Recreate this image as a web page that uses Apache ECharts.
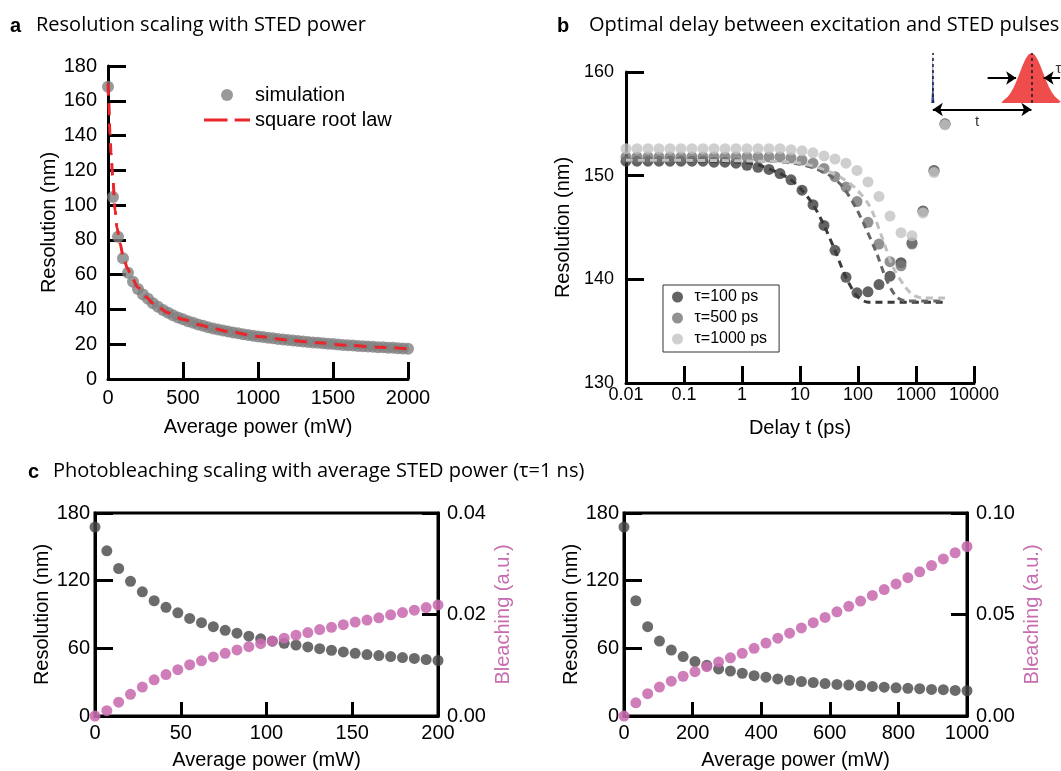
<!DOCTYPE html>
<html><head><meta charset="utf-8">
<script src="https://cdn.jsdelivr.net/npm/echarts/dist/echarts.min.js"></script>
<style>html,body{margin:0;padding:0;background:#fff}#wrap{position:relative;width:1061px;height:771px}#c{width:1061px;height:771px}#ov{position:absolute;left:0;top:0;pointer-events:none}</style>
</head><body><div id="wrap"><div id="c"></div></div>
<script>
// ---------- Panel a ----------
const simPower = [0,33.3,66.7,100,133.3,166.7,200,233.3,266.7,300,333.3,366.7,400,433.3,466.7,500,533.3,566.7,600,633.3,666.7,700,733.3,766.7,800,833.3,866.7,900,933.3,966.7,1000,1033.3,1066.7,1100,1133.3,1166.7,1200,1233.3,1266.7,1300,1333.3,1366.7,1400,1433.3,1466.7,1500,1533.3,1566.7,1600,1633.3,1666.7,1700,1733.3,1766.7,1800,1833.3,1866.7,1900,1933.3,1966.7,2000];
const simRes = [168,104.6,81.8,69.4,61.1,55.9,51.8,48.6,46.1,43.6,41.5,39.7,38.1,36.7,35.4,34.3,33.2,32.3,31.4,30.6,29.8,29.1,28.5,27.9,27.3,26.8,26.3,25.8,25.3,24.9,24.5,24.1,23.7,23.4,23.0,22.7,22.4,22.1,21.8,21.5,21.3,21.0,20.8,20.5,20.3,20.1,19.8,19.6,19.4,19.2,19.0,18.9,18.7,18.5,18.3,18.2,18.0,17.9,17.7,17.6,17.4];
const fitPower = [0,5,13,20,31,47,60,80,100,130,160,200,250,300,400,500,600,700,800,1000,1200,1400,1600,1800,2000];
const fitRes = [170,160,141,130,117,97,87,78,71,63.5,58.1,52.6,47.5,43.6,38.1,34.3,31.4,29.1,27.3,24.5,22.4,20.8,19.4,18.3,17.4];
const aXTicks = [500,1000,1500,2000];
const aYTicks = [20,40,60,80,100,120,140,160,180];

// ---------- Panel b ----------
const delayT = [0.01,0.01548,0.02395,0.03707,0.05736,0.08877,0.1374,0.2126,0.329,0.5092,0.788,1.219,1.887,2.921,4.52,6.996,10.83,16.75,25.93,40.12,62.1,96.11,148.7,230.2,356.2,551.3,853.2,1320,2044,3162];
const res100 = [151.4,151.4,151.4,151.4,151.4,151.4,151.4,151.4,151.3,151.3,151.2,151.0,150.8,150.6,150.2,149.6,148.6,147.2,145.2,142.8,140.2,138.7,138.8,139.5,140.3,141.6,143.5,146.6,150.5,155.0];
const res500 = [151.8,151.8,151.8,151.8,151.8,151.8,151.8,151.8,151.8,151.8,151.8,151.8,151.8,151.8,151.8,151.7,151.5,151.2,150.7,149.9,148.9,147.5,145.5,143.4,141.7,141.3,143.4,146.55,150.45,154.95];
const res1000 = [152.6,152.6,152.6,152.6,152.6,152.6,152.6,152.6,152.6,152.6,152.6,152.6,152.6,152.6,152.6,152.5,152.4,152.2,151.9,151.6,151.2,150.5,149.4,148.0,146.1,144.5,144.2,146.4,150.3,154.9];
const fit100T = [0.01,1,2,4.5,7,10.8,16.8,26,40,62,96,150,3162];
const fit100R = [151.5,151.3,151.0,150.2,149.6,148.6,147.2,145.2,142.8,140.2,138.4,137.8,137.8];
const fit500T = [0.01,3,10,20,35,55,90,132,210,313,464,700,3162];
const fit500R = [151.5,151.4,151.1,150.6,149.9,148.9,147.0,145.1,142.5,139.9,138.3,137.9,137.9];
const fit1000T = [0.01,3,10,20,35,55,90,161,270,400,646,887,1300,3162];
const fit1000R = [151.5,151.4,151.2,150.8,150.3,149.7,148.8,147.0,143.8,141.2,139.3,138.5,138.2,138.2];
const bTickLabels = ['0.01','0.1','1','10','100','1000','10000'];
const bXTicks = [0.1,1,10,100,1000,10000];
const bYTicks = [140,150,160];
const bNames = ['τ=100 ps','τ=500 ps','τ=1000 ps'];

// inset schematic (pulses)
const spikeX = [-0.016,-0.008,0,0.008,0.016];
const spikeY = [0,0.25,1,0.25,0];
const gaussX = [0.70,0.73,0.76,0.79,0.82,0.85,0.88,0.91,0.94,0.97,1.00,1.03,1.06,1.09,1.12,1.15,1.18,1.21,1.24,1.27,1.30];
const gaussY = [0.02,0.073,0.126,0.205,0.312,0.446,0.596,0.748,0.879,0.968,1,0.968,0.879,0.748,0.596,0.446,0.312,0.205,0.126,0.073,0.02];
const insetLabelPos = [[0.45,-0.38],[1.275,0.68]];
const insetLabelText = ['t','τ'];

// ---------- Panel c ----------
const cLeftPower = [0,6.9,13.8,20.7,27.6,34.5,41.4,48.3,55.2,62.1,69.0,75.9,82.8,89.7,96.6,103.4,110.3,117.2,124.1,131.0,137.9,144.8,151.7,158.6,165.5,172.4,179.3,186.2,193.1,200];
const cLeftRes = [167.5,146.5,130.8,119.4,110.1,102.2,96.4,91.5,86.5,82.7,79.2,76.0,73.4,70.8,68.4,66.3,64.4,62.9,61.2,59.7,58.3,56.8,55.6,54.5,53.6,52.7,51.8,51.0,50.1,49.2];
const cLeftBleach = [0,0.00104,0.00272,0.00427,0.0057,0.00712,0.00816,0.00913,0.0101,0.01087,0.01165,0.01236,0.01301,0.01366,0.01424,0.01476,0.01534,0.01592,0.01644,0.01702,0.01748,0.01799,0.01851,0.0189,0.01935,0.01994,0.02039,0.02085,0.02136,0.02188];
const cRightPower = [0,34.5,69.0,103.4,137.9,172.4,206.9,241.4,275.9,310.3,344.8,379.3,413.8,448.3,482.8,517.2,551.7,586.2,620.7,655.2,689.7,724.1,758.6,793.1,827.6,862.1,896.6,931.0,965.5,1000];
const cRightRes = [167.5,102.2,79.2,66.4,58.5,52.7,48.3,44.9,41.7,39.9,37.9,35.8,34.4,32.9,31.7,30.6,29.7,28.8,28.0,27.4,26.8,26.2,25.6,25.0,24.5,24.2,23.6,23.3,22.7,22.4];
const cRightBleach = [0,0.00647,0.011,0.01424,0.01715,0.01958,0.02184,0.02427,0.02654,0.02864,0.0309,0.03333,0.03592,0.03835,0.04078,0.04337,0.04595,0.04854,0.0513,0.05405,0.05663,0.05939,0.0623,0.06505,0.06812,0.07104,0.07411,0.07735,0.08042,0.0835];
const cLXTicks = [50,100,150];
const cRXTicks = [200,400,600,800];
const cYTicks = [60,120];
const cLBleachTicks = [0.02];
const cRBleachTicks = [0.05];

// ---------- styling ----------
const FONT = '"Liberation Sans", Arial, Helvetica, sans-serif';
const TFONT = '"Open Sans", "Noto Sans", sans-serif';
const BLACK = '#000';
const PINK = '#c86cb0';
const DARK = '#464646';
const zip = (a, b) => a.map((v, i) => [v, b[i]]);
const plain = v => String(v);

function ax(o) {
  const r = {
    gridIndex: o.gridIndex, type: o.type, min: o.min, max: o.max,
    axisLine: {show: true, lineStyle: {color: BLACK, width: 3}},
    axisTick: {show: true, inside: true, length: o.tickLen || 18, lineStyle: {color: BLACK, width: 3}},
    splitLine: {show: false},
    axisLabel: {color: BLACK, fontSize: o.fs || 20, fontFamily: FONT, margin: o.margin, formatter: o.fmt || plain},
    name: o.name, nameLocation: 'middle', nameGap: o.nameGap,
    nameTextStyle: {color: o.nameColor || BLACK, fontSize: 20, fontFamily: FONT}
  };
  if (o.interval !== undefined) r.interval = o.interval;
  if (o.logBase !== undefined) r.logBase = o.logBase;
  if (o.nameRotate !== undefined) r.nameRotate = o.nameRotate;
  if (o.position !== undefined) { r.position = o.position; r.axisLine.onZero = false; }
  return r;
}

const option = {
  animation: false,
  backgroundColor: '#fff',
  title: [
    {text: 'a', left: 10, top: 16, padding: 0, textStyle: {fontSize: 20, fontWeight: 'bold', fontFamily: FONT, color: BLACK}},
    {text: 'Resolution scaling with STED power', left: 36, top: 15, padding: 0, textStyle: {fontSize: 20, fontWeight: 'normal', fontFamily: TFONT, color: BLACK}},
    {text: 'b', left: 557, top: 16, padding: 0, textStyle: {fontSize: 20, fontWeight: 'bold', fontFamily: FONT, color: BLACK}},
    {text: 'Optimal delay between excitation and STED pulses', left: 589, top: 15, padding: 0, textStyle: {fontSize: 20, fontWeight: 'normal', fontFamily: TFONT, color: BLACK}},
    {text: 'c', left: 28, top: 462, padding: 0, textStyle: {fontSize: 20, fontWeight: 'bold', fontFamily: FONT, color: BLACK}},
    {text: 'Photobleaching scaling with average STED power (τ=1 ns)', left: 53, top: 461, padding: 0, textStyle: {fontSize: 20, fontWeight: 'normal', fontFamily: TFONT, color: BLACK}}
  ],
  legend: [
    {data: [{name: 'simulation'}, {name: 'square root law', icon: 'path://M0 0H23V3H0Z M30 0H45V3H30Z'}],
     orient: 'vertical', left: 204, top: 85, padding: 0, symbolKeepAspect: true,
     itemWidth: 46, itemHeight: 12, itemGap: 5, textStyle: {fontSize: 20, fontFamily: FONT, color: BLACK}},
    {data: bNames, orient: 'vertical', left: 663, top: 285, padding: [4, 12, 5, 9],
     borderColor: '#333', borderWidth: 1, itemWidth: 24, itemHeight: 11, itemGap: 5,
     textStyle: {fontSize: 16, fontFamily: FONT, color: BLACK}}
  ],
  grid: [
    {left: 108, top: 66, width: 300, height: 313},
    {left: 626, top: 72, width: 348, height: 311},
    {left: 900, top: 53, width: 162, height: 75},
    {left: 95, top: 513, width: 343, height: 206, show: true, borderColor: BLACK, borderWidth: 3, backgroundColor: 'transparent'},
    {left: 624, top: 513, width: 343, height: 206, show: true, borderColor: BLACK, borderWidth: 3, backgroundColor: 'transparent'}
  ],
  xAxis: [
    ax({gridIndex: 0, type: 'value', min: 0, max: 2000, interval: 500, tickLen: 17, margin: 9, name: 'Average power (mW)', nameGap: 38}),
    ax({gridIndex: 1, type: 'log', logBase: 10, min: 0.01, max: 10000, tickLen: 17, fs: 18, margin: 3,
        fmt: v => bTickLabels[Math.round(Math.log10(v)) + 2], name: 'Delay t (ps)', nameGap: 35}),
    {gridIndex: 2, type: 'value', min: -0.333, max: 1.3, show: false},
    ax({gridIndex: 3, type: 'value', min: 0, max: 200, interval: 50, tickLen: 14, margin: 7, name: 'Average power (mW)', nameGap: 34}),
    ax({gridIndex: 4, type: 'value', min: 0, max: 1000, interval: 200, tickLen: 14, margin: 7, name: 'Average power (mW)', nameGap: 34})
  ],
  yAxis: [
    ax({gridIndex: 0, type: 'value', min: 0, max: 180, interval: 20, margin: 11, name: 'Resolution (nm)', nameRotate: 90, nameGap: 45}),
    ax({gridIndex: 1, type: 'value', min: 130, max: 160, interval: 10, fs: 18, margin: 12, name: 'Resolution (nm)', nameRotate: 90, nameGap: 53}),
    {gridIndex: 2, type: 'value', min: -0.5, max: 1, show: false},
    ax({gridIndex: 3, type: 'value', min: 0, max: 180, interval: 60, margin: 5, name: 'Resolution (nm)', nameRotate: 90, nameGap: 33}),
    ax({gridIndex: 3, type: 'value', position: 'right', min: 0, max: 0.04, interval: 0.02, tickLen: 16, margin: 9,
        fmt: v => v.toFixed(2), name: 'Bleaching (a.u.)', nameRotate: 90, nameGap: 55, nameColor: PINK}),
    ax({gridIndex: 4, type: 'value', min: 0, max: 180, interval: 60, margin: 5, name: 'Resolution (nm)', nameRotate: 90, nameGap: 33}),
    ax({gridIndex: 4, type: 'value', position: 'right', min: 0, max: 0.1, interval: 0.05, tickLen: 16, margin: 9,
        fmt: v => v.toFixed(2), name: 'Bleaching (a.u.)', nameRotate: 90, nameGap: 55, nameColor: PINK})
  ],
  series: [
    // panel a
    {name: 'simulation', type: 'scatter', xAxisIndex: 0, yAxisIndex: 0, symbolSize: 12,
     itemStyle: {color: '#808080'}, data: zip(simPower, simRes)},
    {name: 'square root law', type: 'line', xAxisIndex: 0, yAxisIndex: 0, symbol: 'none', smooth: 0.3, smoothMonotone: 'x',
     lineStyle: {color: '#e8262b', width: 3, type: [12, 8]}, itemStyle: {color: '#e8262b'}, data: zip(fitPower, fitRes), z: 3},
    // panel b
    {name: bNames[0], type: 'scatter', xAxisIndex: 1, yAxisIndex: 1, symbolSize: 11, itemStyle: {color: '#3c3c3c'}, data: zip(delayT, res100)},
    {name: 'fit100', type: 'line', xAxisIndex: 1, yAxisIndex: 1, symbol: 'none', smooth: 0.3,
     lineStyle: {color: '#3a3a3a', width: 3, type: [7, 5]}, data: zip(fit100T, fit100R)},
    {name: bNames[1], type: 'scatter', xAxisIndex: 1, yAxisIndex: 1, symbolSize: 11, itemStyle: {color: '#767676'}, data: zip(delayT, res500)},
    {name: 'fit500', type: 'line', xAxisIndex: 1, yAxisIndex: 1, symbol: 'none', smooth: 0.3,
     lineStyle: {color: '#666666', width: 3, type: [7, 5]}, data: zip(fit500T, fit500R)},
    {name: bNames[2], type: 'scatter', xAxisIndex: 1, yAxisIndex: 1, symbolSize: 11, itemStyle: {color: '#c3c3c3'}, data: zip(delayT, res1000)},
    {name: 'fit1000', type: 'line', xAxisIndex: 1, yAxisIndex: 1, symbol: 'none', smooth: 0.3,
     lineStyle: {color: '#c0c0c0', width: 3, type: [7, 5]}, data: zip(fit1000T, fit1000R)},
    // inset
    {name: 'excitation', type: 'line', xAxisIndex: 2, yAxisIndex: 2, symbol: 'none', silent: true,
     lineStyle: {width: 0}, areaStyle: {color: '#3f51a6', opacity: 1}, data: zip(spikeX, spikeY),
     markLine: {silent: true, animation: false, symbol: 'none', label: {show: false},
       lineStyle: {color: '#1a1a2a', width: 1.5, type: [3, 3]},
       data: [[{coord: [0, 0]}, {coord: [0, 1]}], [{coord: [1, 0]}, {coord: [1, 1]}]]}},
    {name: 'sted', type: 'line', xAxisIndex: 2, yAxisIndex: 2, symbol: 'none', silent: true, z: 1,
     lineStyle: {width: 0}, areaStyle: {color: '#ef4c4c', opacity: 1}, data: zip(gaussX, gaussY),
     markLine: {silent: true, animation: false, symbol: ['none', 'arrow'], symbolSize: 10, label: {show: false},
       lineStyle: {color: BLACK, width: 2, type: 'solid'},
       data: [[{coord: [0.556, 0.5]}, {coord: [0.845, 0.5]}], [{coord: [1.29, 0.5]}, {coord: [1.124, 0.5]}]]}},
    {name: 'insetText', type: 'scatter', xAxisIndex: 2, yAxisIndex: 2, symbolSize: 1, silent: true,
     itemStyle: {color: 'transparent'},
     label: {show: true, position: 'inside', color: BLACK, fontSize: 15, fontFamily: FONT,
             formatter: p => insetLabelText[p.dataIndex]},
     data: insetLabelPos,
     markLine: {silent: true, animation: false, symbol: ['arrow', 'arrow'], symbolSize: 10, label: {show: false},
       lineStyle: {color: BLACK, width: 2, type: 'solid'},
       data: [[{coord: [0, -0.13]}, {coord: [1, -0.13]}]]}},
    // panel c left
    {name: 'cLres', type: 'scatter', xAxisIndex: 3, yAxisIndex: 3, symbolSize: 11, itemStyle: {color: DARK}, data: zip(cLeftPower, cLeftRes)},
    {name: 'cLbl', type: 'scatter', xAxisIndex: 3, yAxisIndex: 4, symbolSize: 11, itemStyle: {color: PINK, opacity: 0.88}, data: zip(cLeftPower, cLeftBleach)},
    // panel c right
    {name: 'cRres', type: 'scatter', xAxisIndex: 4, yAxisIndex: 5, symbolSize: 11, itemStyle: {color: DARK}, data: zip(cRightPower, cRightRes)},
    {name: 'cRbl', type: 'scatter', xAxisIndex: 4, yAxisIndex: 6, symbolSize: 11, itemStyle: {color: PINK, opacity: 0.88}, data: zip(cRightPower, cRightBleach)}
  ]
};

const chart = echarts.init(document.getElementById('c'), null, {renderer: 'canvas'});
chart.setOption(option);

// ---------- inward tick marks: verify they were drawn, else place them via the axes' own scales ----------
const tickSpecs = [
  {finder: {xAxisIndex: 0, yAxisIndex: 0}, vals: aYTicks, at: v => [0, v], dx: 18, dy: 0},
  {finder: {xAxisIndex: 0, yAxisIndex: 0}, vals: aXTicks, at: v => [v, 0], dx: 0, dy: -17},
  {finder: {xAxisIndex: 1, yAxisIndex: 1}, vals: bYTicks, at: v => [0.01, v], dx: 18, dy: 0},
  {finder: {xAxisIndex: 1, yAxisIndex: 1}, vals: bXTicks, at: v => [v, 130], dx: 0, dy: -17},
  {finder: {xAxisIndex: 3, yAxisIndex: 3}, vals: cYTicks, at: v => [0, v], dx: 18, dy: 0},
  {finder: {xAxisIndex: 3, yAxisIndex: 3}, vals: cLXTicks, at: v => [v, 0], dx: 0, dy: -14},
  {finder: {xAxisIndex: 3, yAxisIndex: 4}, vals: cLBleachTicks, at: v => [200, v], dx: -16, dy: 0},
  {finder: {xAxisIndex: 4, yAxisIndex: 5}, vals: cYTicks, at: v => [0, v], dx: 18, dy: 0},
  {finder: {xAxisIndex: 4, yAxisIndex: 5}, vals: cRXTicks, at: v => [v, 0], dx: 0, dy: -14},
  {finder: {xAxisIndex: 4, yAxisIndex: 6}, vals: cRBleachTicks, at: v => [1000, v], dx: -16, dy: 0}
];
function tickSegments() {
  const segs = [];
  tickSpecs.forEach(s => s.vals.forEach(v => {
    const p = chart.convertToPixel(s.finder, s.at(v));
    if (p && isFinite(p[0]) && isFinite(p[1])) segs.push([p[0], p[1], p[0] + s.dx, p[1] + s.dy]);
  }));
  return segs;
}
function flush() { try { chart.getZr().flush(); } catch (e) {} }
function darkNear(x, y, horiz) {
  const canvases = chart.getDom().querySelectorAll('canvas');
  for (const cv of canvases) {
    let ctx; try { ctx = cv.getContext('2d'); } catch (e) { continue; }
    if (!ctx) continue;
    const sx = cv.width / cv.clientWidth || 1;
    for (let d = -2; d <= 2; d++) {
      const px = Math.round((horiz ? x : x + d) * sx), py = Math.round((horiz ? y + d : y) * sx);
      try {
        const c = ctx.getImageData(px, py, 1, 1).data;
        if (c[3] > 200 && c[0] < 90 && c[1] < 90 && c[2] < 90) return true;
      } catch (e) { return true; }
    }
  }
  return false;
}
function ticksOk(segs) {
  return segs.every(s => {
    const horiz = s[1] === s[3];
    const mx = horiz ? s[0] + (s[2] - s[0]) * 0.75 : s[0];
    const my = horiz ? s[1] : s[1] + (s[3] - s[1]) * 0.75;
    return darkNear(mx, my, horiz);
  });
}
let overlayDone = false;
function overlay(segs) {
  if (overlayDone) return;
  overlayDone = true;
  const cv = document.createElement('canvas');
  cv.id = 'ov'; cv.width = 1061; cv.height = 771;
  document.getElementById('wrap').appendChild(cv);
  const ctx = cv.getContext('2d');
  ctx.strokeStyle = '#000'; ctx.lineWidth = 3; ctx.lineCap = 'butt';
  segs.forEach(s => { ctx.beginPath(); ctx.moveTo(s[0], s[1]); ctx.lineTo(s[2], s[3]); ctx.stroke(); });
}
let graphicAdded = false;
function ensureTicks() {
  flush();
  const segs = tickSegments();
  if (ticksOk(segs)) return;
  if (!graphicAdded) {
    graphicAdded = true;
    chart.setOption({graphic: segs.map(s => ({type: 'line', silent: true, z: 50,
      shape: {x1: s[0], y1: s[1], x2: s[2], y2: s[3]}, style: {stroke: '#000', lineWidth: 3}}))});
    flush();
    if (ticksOk(segs)) return;
  }
  overlay(segs);
}
ensureTicks();
setTimeout(ensureTicks, 150);
setTimeout(ensureTicks, 600);
</script></body></html>
